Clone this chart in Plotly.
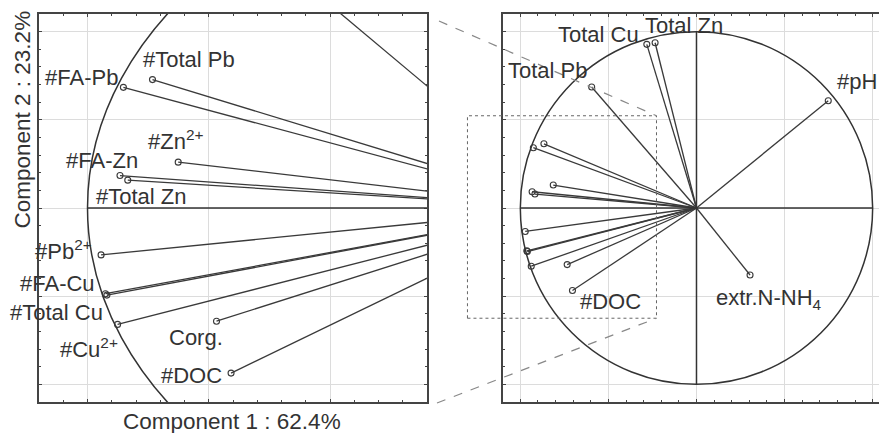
import plotly.graph_objects as go

# ---------------- data (loadings) ----------------
names = ["#Total Pb", "#FA-Pb", "#Zn2+", "#FA-Zn", "#Total Zn", "#Pb2+", "#FA-Cu",
         "#Total Cu", "#Cu2+", "Corg.", "#DOC", "Total Pb", "Total Cu", "Total Zn",
         "#pH", "extr.N-NH4"]
pc1 = [-0.866, -0.926, -0.813, -0.933, -0.917, -0.972, -0.963,
       -0.960, -0.938, -0.734, -0.704, -0.595, -0.282, -0.235,
       0.748, 0.304]
pc2 = [0.364, 0.342, 0.130, 0.092, 0.079, -0.133, -0.243,
       -0.247, -0.330, -0.321, -0.468, 0.686, 0.928, 0.937,
       0.608, -0.380]

x_title = "Component 1 : 62.4%"
y_title = "Component 2 : 23.2%"

# labels shown in each panel (variable, text)
left_vars = ["#Total Pb", "#FA-Pb", "#Zn2+", "#FA-Zn", "#Total Zn", "#Pb2+",
             "#FA-Cu", "#Total Cu", "#Cu2+", "Corg.", "#DOC"]
left_text = ["#Total Pb", "#FA-Pb", "#Zn<sup>2+</sup>", "#FA-Zn", "#Total Zn",
             "#Pb<sup>2+</sup>", "#FA-Cu", "#Total Cu", "#Cu<sup>2+</sup>", "Corg.", "#DOC"]
right_vars = ["Total Pb", "Total Cu", "Total Zn", "#pH", "extr.N-NH4", "#DOC"]
right_text = ["Total Pb", "Total Cu", "Total Zn", "#pH", "extr.N-NH<sub>4</sub>", "#DOC"]

# ---------------- layout / style ----------------
W, H = 879, 433
FONT = "Liberation Sans, Arial, sans-serif"
INK = "#3a3a3a"
GRID = "#dcdcdc"
FS = 22
FS_TITLE = 22.5

# label offsets in pixels (label centre relative to point)
left_off = [(37, -20), (-42, -10), (-3, -22), (-18, -15), (14, 16), (-38, -5),
            (-48, -10), (-50, 17), (-29, 24), (-21, 16), (-40, 2)]
right_off = [(-44, -17), (-48, -10), (29, -17), (29, -19), (19, 24), (38, 11)]

Lx = (39, 427)
Rx = (502.7, 879)
Ytop, Ybot = 14, 402

L_xr, L_yr = [-1.1, -0.3], [-0.55, 0.55]
R_xr, R_yr = [-1.1, 1.036], [-1.1, 1.1]


def vec_trace(xa, ya):
    xs, ys = [], []
    for a, b in zip(pc1, pc2):
        xs += [0, a, None]
        ys += [0, b, None]
    return go.Scatter(x=xs, y=ys, mode="lines", xaxis=xa, yaxis=ya,
                      line=dict(color=INK, width=1.3), hoverinfo="skip",
                      showlegend=False)


def pt_trace(xa, ya):
    return go.Scatter(x=pc1, y=pc2, mode="markers", xaxis=xa, yaxis=ya,
                      marker=dict(symbol="circle-open", size=6, color=INK,
                                  line=dict(width=1.1, color=INK)),
                      text=names, showlegend=False)


fig = go.Figure([vec_trace("x", "y"), pt_trace("x", "y"),
                 vec_trace("x2", "y2"), pt_trace("x2", "y2")])

ydom = [1 - Ybot / H, 1 - Ytop / H]


def ax(dom, rng, dtick, mdtick, mirror):
    return dict(domain=dom, range=rng, dtick=dtick, tick0=0, showgrid=True,
                gridcolor=GRID, gridwidth=1, ticks="inside", ticklen=3,
                tickcolor="#444", showline=True, linecolor="#444", linewidth=2,
                mirror=mirror, showticklabels=False, zeroline=False,
                minor=dict(dtick=mdtick, ticks="inside", ticklen=2,
                           tickcolor="#444", showgrid=False))


fig.update_layout(
    width=W, height=H, margin=dict(l=0, r=0, t=0, b=0),
    paper_bgcolor="white", plot_bgcolor="white", hovermode=False,
    font=dict(family=FONT, size=FS, color="#333"),
    xaxis=ax([Lx[0] / W, Lx[1] / W], L_xr, 0.25, 0.05, "ticks"),
    yaxis=ax(ydom, L_yr, 0.25, 0.05, "ticks"),
    xaxis2=ax([Rx[0] / W, Rx[1] / W], R_xr, 0.5, 0.1, "ticks"),
    yaxis2=ax(ydom, R_yr, 0.5, 0.1, False),
)
fig.layout.yaxis2.anchor = "x2"
fig.layout.xaxis2.anchor = "y2"

shapes = []
for xr, yr in (("x", "y"), ("x2", "y2")):
    shapes.append(dict(type="circle", xref=xr, yref=yr, x0=-1, x1=1, y0=-1, y1=1,
                       line=dict(color="#333", width=1.5), layer="above"))
    shapes.append(dict(type="line", xref=xr, yref=yr, x0=-1, x1=1, y0=0, y1=0,
                       line=dict(color="#333", width=1.5), layer="above"))
    shapes.append(dict(type="line", xref=xr, yref=yr, x0=0, x1=0, y0=-1, y1=1,
                       line=dict(color="#333", width=1.5), layer="above"))

# zoom box (in right-panel units) and connector lines, in paper coords
box_x, box_y = [-1.30, -0.227], [-0.625, 0.523]


def rpx(x):
    return Rx[0] + (x - R_xr[0]) / (R_xr[1] - R_xr[0]) * (Rx[1] - Rx[0])


def rpy(y):
    return Ybot - (y - R_yr[0]) / (R_yr[1] - R_yr[0]) * (Ybot - Ytop)


bx0, bx1 = rpx(box_x[0]), rpx(box_x[1])
by0, by1 = rpy(box_y[1]), rpy(box_y[0])
shapes.append(dict(type="rect", xref="paper", yref="paper",
                   x0=bx0 / W, x1=bx1 / W, y0=1 - by1 / H, y1=1 - by0 / H,
                   line=dict(color="#666", width=1, dash="dot")))
shapes.append(dict(type="line", xref="paper", yref="paper",
                   x0=(Lx[1] + 12) / W, y0=1 - (Ytop + 7) / H, x1=bx1 / W, y1=1 - by0 / H,
                   line=dict(color="#888", width=1.2, dash="dash")))
shapes.append(dict(type="line", xref="paper", yref="paper",
                   x0=(Lx[1] + 10) / W, y0=1 - (Ybot + 1) / H, x1=bx1 / W, y1=1 - by1 / H,
                   line=dict(color="#888", width=1.2, dash="dash")))
fig.update_layout(shapes=shapes)

ann = []
for v, t, (dx, dy) in zip(left_vars, left_text, left_off):
    i = names.index(v)
    ann.append(dict(x=pc1[i], y=pc2[i], xref="x", yref="y", text=t, showarrow=False,
                    xanchor="center", yanchor="middle", xshift=dx, yshift=-dy))
for v, t, (dx, dy) in zip(right_vars, right_text, right_off):
    i = names.index(v)
    ann.append(dict(x=pc1[i], y=pc2[i], xref="x2", yref="y2", text=t, showarrow=False,
                    xanchor="center", yanchor="middle", xshift=dx, yshift=-dy))
ann.append(dict(x=231.5 / W, y=1 - 421.7 / H, xref="paper", yref="paper", text=x_title,
                showarrow=False, xanchor="center", yanchor="middle",
                font=dict(size=FS_TITLE)))
ann.append(dict(x=22.5 / W, y=1 - 120 / H, xref="paper", yref="paper", text=y_title,
                showarrow=False, xanchor="center", yanchor="middle", textangle=-90,
                font=dict(size=FS_TITLE)))
fig.update_layout(annotations=ann)

fig.write_html("out.html",
               config={"displayModeBar": False, "staticPlot": True},
               post_script="document.body.style.margin='0';"
                           "document.body.style.overflow='hidden';")
